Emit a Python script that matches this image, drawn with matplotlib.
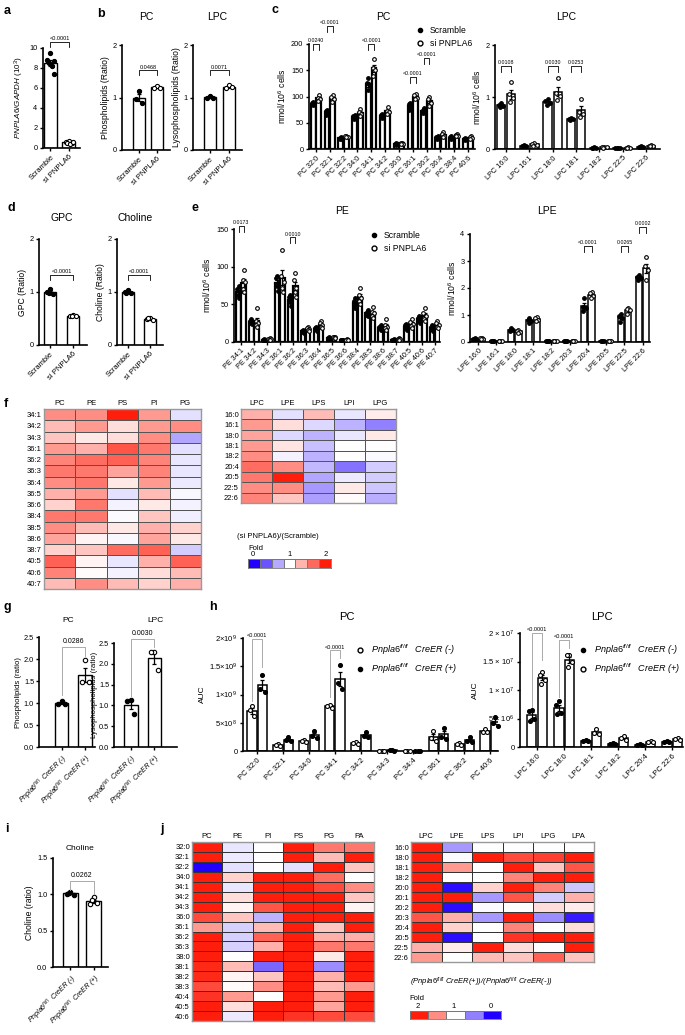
import numpy as np
import matplotlib
matplotlib.use('Agg')
import matplotlib.pyplot as plt
from matplotlib.colors import LinearSegmentedColormap
from matplotlib.lines import Line2D

plt.rcParams['font.family'] = ['Liberation Sans', 'DejaVu Sans']
plt.rcParams['mathtext.fontset'] = 'custom'
plt.rcParams['mathtext.rm'] = 'Liberation Sans'
plt.rcParams['mathtext.it'] = 'Liberation Sans:italic'
plt.rcParams['mathtext.bf'] = 'Liberation Sans:bold'
plt.rcParams['axes.linewidth'] = 1.2

# ---------------- data ----------------
grp_si = ['Scramble', 'si PNPLA6']
grp_ko = [r'$Pnpla6^{fl/fl}$  CreER (-)', r'$Pnpla6^{fl/fl}$  CreER (+)']

# a
a_scr = [9.5, 8.8, 8.7, 8.5, 8.2, 7.4]
a_si = [0.7, 0.65, 0.55, 0.5, 0.4, 0.6]
# b
b_pc_scr = [1.12, 0.97, 0.9]
b_pc_si = [1.22, 1.19, 1.18]
b_lpc_scr = [1.03, 0.99, 1.0]
b_lpc_si = [1.23, 1.18, 1.2]

# c
c_pc_labels = ['PC 32:0', 'PC 32:1', 'PC 32:2', 'PC 34:0', 'PC 34:1', 'PC 34:2',
               'PC 36:0', 'PC 36:1', 'PC 36:2', 'PC 36:4', 'PC 38:4', 'PC 40:6']
c_pc_scr = [[90, 87, 85, 83], [74, 72, 68, 65], [22, 21, 20, 20], [64, 62, 60, 58],
            [135, 125, 120, 112], [66, 64, 62, 60], [11, 10, 9, 8], [88, 85, 80, 75],
            [78, 75, 70, 68], [24, 22, 21, 20], [24, 22, 21, 20], [21, 20, 19, 17]]
c_pc_si = [[103, 98, 95, 92], [102, 100, 95, 90], [25, 24, 23, 22], [76, 70, 66, 62],
           [172, 155, 150, 140], [80, 72, 70, 66], [12, 11, 10, 9], [105, 102, 98, 95],
           [100, 95, 88, 82], [33, 28, 25, 23], [29, 27, 25, 24], [24, 22, 21, 20]]
c_lpc_labels = ['LPC 16:0', 'LPC 16:1', 'LPC 18:0', 'LPC 18:1', 'LPC 18:2', 'LPC 22:5', 'LPC 22:6']
c_lpc_scr = [[0.88, 0.85, 0.82, 0.80], [0.07, 0.06, 0.05, 0.05], [0.97, 0.92, 0.88, 0.84],
             [0.60, 0.58, 0.57, 0.56], [0.03, 0.02, 0.02, 0.02], [0.02, 0.01, 0.01, 0.01],
             [0.05, 0.04, 0.04, 0.03]]
c_lpc_si = [[1.28, 1.05, 0.98, 0.90], [0.12, 0.10, 0.08, 0.06], [1.37, 1.08, 1.02, 0.95],
            [0.97, 0.72, 0.68, 0.62], [0.04, 0.03, 0.03, 0.02], [0.03, 0.02, 0.02, 0.01],
            [0.08, 0.06, 0.05, 0.05]]

# d
d_gpc_scr = [1.05, 1.0, 0.97, 0.98]
d_gpc_si = [0.56, 0.55, 0.54, 0.55]
d_cho_scr = [1.03, 1.0, 0.98, 0.99]
d_cho_si = [0.5, 0.49, 0.48, 0.5]

# e
e_pe_labels = ['PE 34:1', 'PE 34:2', 'PE 34:3', 'PE 36:1', 'PE 36:2', 'PE 36:3', 'PE 36:4',
               'PE 36:5', 'PE 36:6', 'PE 38:4', 'PE 38:5', 'PE 38:6', 'PE 38:7', 'PE 40:5',
               'PE 40:6', 'PE 40:7']
e_pe_scr = [[75, 70, 67, 62, 58], [30, 28, 27, 25, 24], [4, 3, 3, 3, 2], [88, 85, 78, 74, 68],
            [63, 60, 57, 53, 48], [16, 15, 14, 13, 12], [20, 19, 18, 17, 15], [6, 5, 5, 4, 4],
            [3, 3, 2, 2, 2], [58, 55, 52, 48, 45], [42, 40, 38, 36, 34], [22, 20, 19, 18, 16],
            [4, 3, 3, 3, 2], [24, 22, 20, 18, 16], [35, 32, 30, 28, 25], [22, 20, 18, 17, 15]]
e_pe_si = [[95, 82, 80, 70, 66], [45, 28, 25, 22, 20], [5, 4, 4, 3, 3], [122, 88, 80, 72, 66],
           [92, 82, 72, 67, 60], [20, 19, 17, 16, 15], [28, 25, 22, 20, 18], [7, 6, 6, 5, 5],
           [4, 3, 3, 3, 2], [72, 62, 58, 55, 50], [46, 40, 38, 35, 32], [30, 22, 20, 18, 16],
           [5, 4, 4, 3, 3], [30, 27, 24, 21, 19], [45, 38, 34, 30, 28], [28, 25, 22, 20, 18]]
e_lpe_labels = ['LPE 16:0', 'LPE 16:1', 'LPE 18:0', 'LPE 18:1', 'LPE 18:2', 'LPE 20:3',
                'LPE 20:4', 'LPE 20:5', 'LPE 22:5', 'LPE 22:6']
e_lpe_scr = [[0.14, 0.12, 0.11, 0.10], [0.04, 0.03, 0.03, 0.02], [0.52, 0.46, 0.43, 0.40],
             [0.88, 0.82, 0.78, 0.72], [0.03, 0.02, 0.02, 0.02], [0.03, 0.02, 0.02, 0.02],
             [1.62, 1.30, 1.25, 1.15], [0.03, 0.02, 0.02, 0.02], [1.02, 0.95, 0.88, 0.75],
             [2.50, 2.42, 2.38, 2.30]]
e_lpe_si = [[0.15, 0.13, 0.12, 0.10], [0.05, 0.04, 0.03, 0.03], [0.45, 0.40, 0.38, 0.35],
            [0.92, 0.88, 0.82, 0.78], [0.04, 0.03, 0.03, 0.02], [0.04, 0.03, 0.03, 0.02],
            [1.85, 1.80, 1.72, 1.62], [0.04, 0.03, 0.03, 0.02], [1.25, 1.22, 1.18, 1.02],
            [3.15, 2.80, 2.65, 2.30]]

# f heatmaps (fold, si PNPLA6 / Scramble)
f_rows = ['34:1', '34:2', '34:3', '36:1', '36:2', '36:3', '36:4', '36:5', '36:6', '38:4',
          '38:5', '38:6', '38:7', '40:5', '40:6', '40:7']
f_cols = ['PC', 'PE', 'PS', 'PI', 'PG']
f_vals = [[1.5, 1.5, 2.0, 1.45, 0.88], [1.3, 1.45, 1.15, 1.45, 1.5], [1.25, 1.1, 1.15, 1.5, 0.65],
          [1.45, 1.35, 1.75, 1.6, 0.88], [1.55, 1.65, 1.7, 1.55, 0.9], [1.6, 1.6, 1.4, 1.55, 0.9],
          [1.5, 1.6, 1.1, 1.45, 0.92], [1.35, 1.45, 0.88, 1.3, 0.97], [1.2, 1.6, 0.95, 1.1, 0.95],
          [1.6, 1.6, 0.98, 1.25, 0.93], [1.5, 1.3, 1.1, 1.35, 1.2], [1.4, 1.05, 0.97, 1.4, 1.1],
          [1.2, 1.25, 1.65, 1.7, 0.8], [1.7, 1.05, 0.9, 1.35, 1.7], [1.55, 1.02, 0.95, 1.15, 1.3],
          [1.3, 1.5, 1.3, 1.2, 1.35]]
f_lrows = ['16:0', '16:1', '18:0', '18:1', '18:2', '20:4', '20:5', '22:5', '22:6']
f_lcols = ['LPC', 'LPE', 'LPS', 'LPI', 'LPG']
f_lvals = [[1.35, 0.88, 1.3, 0.9, 1.08], [1.45, 1.15, 0.85, 0.7, 0.5], [1.4, 0.85, 0.7, 0.9, 1.1],
           [1.45, 1.12, 0.75, 1.0, 1.0], [1.5, 0.95, 0.7, 1.0, 0.98], [1.65, 1.5, 0.72, 0.45, 0.8],
           [1.6, 2.0, 0.65, 0.92, 0.8], [1.5, 1.5, 0.6, 1.1, 0.78], [1.55, 1.25, 0.62, 1.02, 0.68]]
f_legend = [0, 0.33, 0.67, 1, 1.33, 1.67, 2]

# g
g_pc_ctl = [1.05, 0.98, 0.98]
g_pc_ko = [1.97, 1.47, 1.47]
g_lpc_ctl = [1.12, 1.1, 0.8]
g_lpc_ko = [2.28, 2.28, 1.86]

# h (PC in units of 1e8, LPC in units of 1e6)
h_pc_labels = ['PC 32:0', 'PC 32:1', 'PC 34:0', 'PC 34:1', 'PC 34:2', 'PC 34:3', 'PC 34:4',
               'PC 36:1', 'PC 36:2', 'PC 40:6']
h_pc_ctl = [[8.0, 7.2, 6.2], [1.3, 1.1, 0.9], [2.0, 1.8, 1.6], [8.2, 7.9, 7.6], [1.6, 1.4, 1.2],
            [0.08, 0.05, 0.03], [0.03, 0.02, 0.01], [3.5, 2.3, 1.8], [1.4, 1.2, 1.0], [3.9, 3.3, 3.3]]
h_pc_ko = [[13.5, 11.0, 10.5], [2.4, 2.0, 1.7], [3.5, 2.6, 2.3], [15.3, 12.0, 11.0], [3.4, 2.7, 2.4],
           [0.15, 0.1, 0.06], [0.04, 0.02, 0.01], [4.1, 2.5, 2.2], [2.4, 1.8, 1.6], [6.1, 5.0, 4.5]]
h_lpc_labels = ['LPC 16:0', 'LPC 18:0', 'LPC 18:1', 'LPC 18:2', 'LPC 20:4', 'LPC 22:6']
h_lpc_ctl = [[6.5, 6.4, 5.0, 4.6], [8.0, 7.3, 6.0, 5.8], [1.3, 1.1, 1.0], [0.7, 0.6, 0.5],
             [0.45, 0.35, 0.3], [1.0, 0.9, 0.8]]
h_lpc_ko = [[13.2, 12.7, 11.8, 11.0], [16.2, 16.1, 15.0, 14.0], [3.2, 2.5, 2.2], [1.9, 1.6, 1.2],
            [1.1, 0.9, 0.8], [1.6, 1.4, 1.3]]

# i
i_ctl = [1.03, 1.01, 0.99, 1.02]
i_ko = [0.96, 0.87, 0.88, 0.92]

# j heatmaps (fold, CreER(+) / CreER(-))
j_rows = ['32:0', '32:1', '32:2', '34:0', '34:1', '34:2', '34:3', '36:0', '36:1', '36:2',
          '36:3', '38:0', '38:1', '38:2', '38:3', '40:4', '40:5', '40:6']
j_cols = ['PC', 'PE', 'PI', 'PS', 'PG', 'PA']
j_vals = [[2, 0.9, 1.0, 2, 1.6, 1.6], [2, 0.92, 1.0, 2, 1.3, 2], [0, 0.88, 1.0, 0.88, 2, 1.25],
          [2, 1.2, 2, 2, 1.65, 1.0], [2, 0.9, 2, 2, 1.8, 1.5], [2, 1.15, 2, 2, 2, 1.25],
          [2, 1.05, 1.75, 2, 2, 1.05], [1.8, 1.25, 0.7, 2, 2, 2], [1.45, 0.82, 1.3, 2, 1.25, 2],
          [2, 0.82, 1.7, 2, 1.35, 1.35], [2, 0.82, 1.35, 2, 1.6, 1.6], [2, 1.0, 2, 2, 1.1, 2],
          [1.95, 1.3, 0.4, 2, 0.55, 2], [1.95, 1.05, 1.25, 2, 1.35, 2], [1.8, 1.02, 1.5, 2, 1.3, 1.45],
          [1.9, 1.45, 1.0, 2, 1.45, 2], [2, 1.15, 2, 2, 1.4, 2], [2, 0.92, 2, 1.9, 1.8, 1.8]]
j_lrows = ['16:0', '18:0', '18:1', '18:2', '20:0', '20:1', '20:2', '20:3', '20:4', '20:5',
           '22:5', '22:6']
j_lcols = ['LPC', 'LPE', 'LPS', 'LPI', 'LPG', 'LPA']
j_lvals = [[2, 0.6, 1.0, 1.0, 1.0, 1.0], [2, 0.98, 2, 1.8, 1.85, 2], [2, 1.45, 1.0, 2, 1.25, 1.75],
           [2, 1.0, 1.0, 1.55, 2, 2], [2, 0.05, 1.2, 2, 1.55, 0.78], [2, 2, 0.6, 1.75, 0.8, 1.35],
           [2, 0.05, 0.98, 1.0, 1.15, 1.08], [1.75, 1.35, 0.6, 2, 0.55, 0.1],
           [2, 1.2, 1.0, 1.55, 1.0, 1.15], [2, 0.05, 1.0, 1.9, 2, 2], [1.35, 1.08, 2, 1.15, 1.0, 2],
           [1.45, 1.0, 1.3, 1.25, 1.7, 1.25]]
j_legend = [2, 1.5, 1, 0.5, 0]

# ---------------- drawing helpers ----------------
W, H = 685, 1035
fig = plt.figure(figsize=(W / 100, H / 100), dpi=100)
fig.patch.set_facecolor('white')
fold_cmap = LinearSegmentedColormap.from_list('fold', ['#2200ff', '#ffffff', '#ff1e0c'])
OFFS = [0.0, -0.25, 0.25, -0.12, 0.12, 0.3]


def axpx(l, t, r, b):
    return fig.add_axes([l / W, 1 - b / H, (r - l) / W, (b - t) / H])


def fpos(x, y):
    return x / W, 1 - y / H


def style(ax, fs=5.3):
    ax.spines[['top', 'right']].set_visible(False)
    ax.tick_params(labelsize=fs, length=2.5, width=1.0, pad=1.5)


def one_bar(ax, x, pts, w, filled, ms=6, lw=1.0):
    pts = np.asarray(pts, float)
    m = pts.mean()
    se = pts.std(ddof=1) / np.sqrt(len(pts))
    ax.bar(x, m, w, color='white', edgecolor='black', linewidth=lw, zorder=2)
    ax.errorbar(x, m, yerr=se, fmt='none', ecolor='black', elinewidth=0.9,
                capsize=1.5, capthick=0.9, zorder=3)
    offs = np.array(OFFS[:len(pts)]) * w
    ax.scatter(x + offs, pts, s=ms, facecolor='black' if filled else 'white',
               edgecolor='black', linewidths=0.8, zorder=4, clip_on=False)


def multi_bars(ax, A, B, fillA=True, fillB=False, w=0.34, d=0.19, ms=6, lw=1.0):
    for i, (pa, pb) in enumerate(zip(A, B)):
        one_bar(ax, i - d, pa, w, fillA, ms, lw)
        one_bar(ax, i + d, pb, w, fillB, ms, lw)


def bracket(ax, x1, x2, y, l1, l2, txt, fs=4, color='black', lw=0.6, pad=0.5):
    ax.plot([x1, x1, x2, x2], [y - l1, y, y, y - l2], color=color, lw=lw,
            clip_on=False, zorder=5)
    ax.annotate(txt, ((x1 + x2) / 2, y), xytext=(0, pad), textcoords='offset points',
                ha='center', va='bottom', fontsize=fs, annotation_clip=False)


def xlabels(ax, labels, fs=5.5, style_=None):
    ax.set_xticks(range(len(labels)))
    ax.set_xticklabels(labels, rotation=45, ha='right', rotation_mode='anchor',
                       fontsize=fs, fontstyle=style_ or 'normal')


def heat(ax, vals, rows, cols, edge='#555555', fs=5.5):
    v = np.array(vals, float)
    ax.pcolormesh(v, cmap=fold_cmap, vmin=0, vmax=2, edgecolors=edge, linewidth=0.6)
    ax.set_xlim(0, len(cols))
    ax.set_ylim(len(rows), 0)
    ax.set_xticks(np.arange(len(cols)) + 0.5)
    ax.set_xticklabels(cols)
    ax.xaxis.tick_top()
    ax.set_yticks(np.arange(len(rows)) + 0.5)
    ax.set_yticklabels(rows)
    ax.tick_params(length=0, labelsize=fs, pad=1.5)
    for s in ax.spines.values():
        s.set_color('#999999')
        s.set_linewidth(1.0)


def legend_cells(ax, vals):
    ax.pcolormesh(np.array([vals], float), cmap=fold_cmap, vmin=0, vmax=2,
                  edgecolors='#777777', linewidth=0.5)
    ax.set_xticks([])
    ax.set_yticks([])
    for s in ax.spines.values():
        s.set_color('#777777')
        s.set_linewidth(0.6)


def letter(x, y, s):
    fig.text(*fpos(x, y), s, fontsize=9, fontweight='bold', va='center', ha='left')


def title(x, y, s, fs=7.5):
    fig.text(*fpos(x, y), s, fontsize=fs, ha='center', va='center')


# ---------------- a ----------------
letter(4, 11, 'a')
ax = axpx(43, 48, 80, 148)
one_bar(ax, 0, a_scr, 0.7, True, 9)
one_bar(ax, 1, a_si, 0.7, False, 9)
ax.set_xlim(-0.4, 1.6)
ax.set_ylim(0, 10)
ax.set_yticks([0, 2, 4, 6, 8, 10])
style(ax)
xlabels(ax, grp_si)
ax.set_ylabel(r'$PNPLA6/GAPDH$ (10$^3$)', fontsize=5.8, labelpad=2)
bracket(ax, 0, 1, 10.6, 0.5, 0.5, '<0.0001')

# ---------------- b ----------------
letter(97, 14, 'b')
title(146, 17, 'PC')
title(217, 17, 'LPC')
for (l, r), A, B, lab, p in (((122, 170), b_pc_scr, b_pc_si, 'Phospholipids (Ratio)', '0.0468'),
                             ((193, 242), b_lpc_scr, b_lpc_si, 'Lysophospholipids (Ratio)', '0.0071')):
    ax = axpx(l, 45, r, 150)
    one_bar(ax, 0, A, 0.65, True, 9)
    one_bar(ax, 1, B, 0.65, False, 9)
    ax.set_xlim(-0.9, 1.7)
    ax.set_ylim(0, 2)
    ax.set_yticks([0, 1, 2])
    style(ax)
    xlabels(ax, grp_si)
    ax.set_ylabel(lab, fontsize=6.2, labelpad=2)
    bracket(ax, 0, 1, 1.52, 0.1, 0.1, p)

# ---------------- c ----------------
letter(271, 10, 'c')
title(383, 17, 'PC')
title(566, 17, 'LPC')
ax = axpx(309, 44, 475, 149)
multi_bars(ax, c_pc_scr, c_pc_si, w=0.34, d=0.2, ms=7, lw=1.6)
ax.set_xlim(-0.5, 11.5)
ax.set_ylim(0, 200)
ax.set_yticks([0, 50, 100, 150, 200])
style(ax)
xlabels(ax, c_pc_labels, fs=5.2)
ax.set_ylabel('nmol/10$^6$ cells', fontsize=6.2, labelpad=2)
for i, y, txt in ((0, 200, '0.0240'), (1, 234, '<0.0001'), (4, 200, '<0.0001'),
                  (7, 137, '<0.0001'), (8, 173, '<0.0001')):
    bracket(ax, i - 0.2, i + 0.2, y, 11, 11, txt, fs=3.8)
ax.legend(handles=[Line2D([], [], ls='none', marker='o', ms=3, mfc='black', mec='black', label='Scramble'),
                   Line2D([], [], ls='none', marker='o', ms=3.5, mfc='white', mec='black', mew=1,
                          label='si PNPLA6')],
          loc='upper left', bbox_to_anchor=fpos(412, 22), bbox_transform=fig.transFigure,
          frameon=False, fontsize=6.2, handlelength=0.8, handletextpad=0.8, labelspacing=0.4,
          borderpad=0)

ax = axpx(495, 45, 660, 149)
multi_bars(ax, c_lpc_scr, c_lpc_si, w=0.36, d=0.22, ms=7, lw=1.1)
ax.set_xlim(-0.47, 6.6)
ax.set_ylim(0, 2)
ax.set_yticks([0, 1, 2])
style(ax)
xlabels(ax, c_lpc_labels, fs=5.2)
ax.set_ylabel('nmol/10$^6$ cells', fontsize=6.2, labelpad=2)
for i in (0, 2, 3):
    bracket(ax, i - 0.22, i + 0.22, 1.6, 0.12, 0.12, ['0.0108', '', '0.0030', '0.0253'][i], fs=3.8)

# ---------------- d ----------------
letter(8, 208, 'd')
title(62, 218, 'GPC')
title(135, 218, 'Choline')
for (l, r), A, B, lab in (((39, 87), d_gpc_scr, d_gpc_si, 'GPC (Ratio)'),
                          ((117, 163), d_cho_scr, d_cho_si, 'Choline (Ratio)')):
    ax = axpx(l, 239, r, 345)
    one_bar(ax, 0, A, 0.55, True, 9)
    one_bar(ax, 1, B, 0.55, False, 9)
    ax.set_xlim(-0.48, 1.6)
    ax.set_ylim(0, 2)
    ax.set_yticks([0, 1, 2])
    style(ax)
    xlabels(ax, grp_si)
    ax.set_ylabel(lab, fontsize=6.2, labelpad=2)
    bracket(ax, 0, 1, 1.32, 0.1, 0.1, '<0.0001')

# ---------------- e ----------------
letter(191, 208, 'e')
title(342, 211, 'PE')
title(547, 211, 'LPE')
ax = axpx(234, 229, 440, 342)
multi_bars(ax, e_pe_scr, e_pe_si, w=0.34, d=0.2, ms=7, lw=1.6)
ax.set_xlim(-0.55, 15.4)
ax.set_ylim(0, 150)
ax.set_yticks([0, 50, 100, 150])
style(ax)
xlabels(ax, e_pe_labels, fs=5.2)
ax.set_ylabel('nmol/10$^6$ cells', fontsize=6.2, labelpad=2)
bracket(ax, -0.2, 0.2, 154, 8, 8, '0.0173', fs=3.8)
bracket(ax, 3.8, 4.2, 139, 8, 8, '0.0010', fs=3.8)
ax.legend(handles=[Line2D([], [], ls='none', marker='o', ms=3, mfc='black', mec='black', label='Scramble'),
                   Line2D([], [], ls='none', marker='o', ms=3.5, mfc='white', mec='black', mew=1,
                          label='si PNPLA6')],
          loc='upper left', bbox_to_anchor=fpos(366, 227), bbox_transform=fig.transFigure,
          frameon=False, fontsize=6.2, handlelength=0.8, handletextpad=0.8, labelspacing=0.4,
          borderpad=0)

ax = axpx(470, 234, 650, 342)
multi_bars(ax, e_lpe_scr, e_lpe_si, w=0.34, d=0.2, ms=7, lw=1.1)
ax.set_xlim(-0.45, 9.4)
ax.set_ylim(0, 4)
ax.set_yticks([0, 1, 2, 3, 4])
style(ax)
xlabels(ax, e_lpe_labels, fs=5.2)
ax.set_ylabel('nmol/10$^6$ cells', fontsize=6.2, labelpad=2)
bracket(ax, 5.8, 6.2, 3.55, 0.22, 0.22, '<0.0001', fs=3.8)
bracket(ax, 7.8, 8.2, 3.55, 0.22, 0.22, '0.0265', fs=3.8)
bracket(ax, 8.8, 9.2, 4.26, 0.22, 0.22, '0.0002', fs=3.8)

# ---------------- f ----------------
letter(4, 404, 'f')
ax = axpx(44, 409, 201, 589)
heat(ax, f_vals, f_rows, f_cols)
ax = axpx(241, 409, 396, 503)
heat(ax, f_lvals, f_lrows, f_lcols)
fig.text(*fpos(237, 536), '(si PNPLA6)/(Scramble)', fontsize=5.5, va='center')
fig.text(*fpos(248, 548), 'Fold', fontsize=5.5, va='center')
for x, s in ((253, '0'), (290, '1'), (326, '2')):
    fig.text(*fpos(x, 555), s, fontsize=5.5, va='center', ha='center')
ax = axpx(248, 559, 331, 568)
legend_cells(ax, f_legend)

# ---------------- g ----------------
letter(4, 607, 'g')
title(68, 621, 'PC', fs=6)
title(155, 621, 'LPC', fs=6)
for (l, t, r), A, B, lab, xl, p, by, l1, l2 in (
        ((39, 637, 95), g_pc_ctl, g_pc_ko, 'Phospholipids (ratio)', (-0.96, 1.42), '0.0286', 2.28, 1.1, 0.22),
        ((114, 643, 177), g_lpc_ctl, g_lpc_ko, 'Lysophospholipids (ratio)', (-0.7, 1.95), '0.0030', 2.6, 1.38, 0.2)):
    ax = axpx(l, t, r, 747)
    one_bar(ax, 0, A, 0.58, True, 10)
    one_bar(ax, 1, B, 0.58, False, 10)
    ax.set_xlim(*xl)
    ax.set_ylim(0, 2.5)
    ax.set_yticks([0, 0.5, 1.0, 1.5, 2.0, 2.5])
    style(ax)
    ax.tick_params(axis='y', pad=1)
    xlabels(ax, grp_ko, fs=5, style_='italic')
    ax.set_ylabel(lab, fontsize=5.6, labelpad=1)
    bracket(ax, 0, 1, by, l1, l2, p, fs=5, color='#aaaaaa', lw=0.7, pad=1.5)

# ---------------- h ----------------
letter(209, 607, 'h')
title(347, 617, 'PC', fs=8)
title(602, 617, 'LPC', fs=8)
ax = axpx(243, 638, 498, 751)
multi_bars(ax, h_pc_ctl, h_pc_ko, fillA=False, fillB=True, w=0.36, d=0.2, ms=8, lw=1.1)
ax.set_xlim(-0.55, 9.3)
ax.set_ylim(0, 20)
ax.set_yticks([0, 5, 10, 15, 20])
ax.set_yticklabels(['0', r'5×10$^8$', r'1×10$^9$', r'1.5×10$^9$', r'2×10$^9$'])
style(ax, fs=5.5)
xlabels(ax, h_pc_labels, fs=5.5)
ax.set_ylabel('AUC', fontsize=6, labelpad=2)
bracket(ax, -0.2, 0.2, 19.8, 11.0, 5.0, '<0.0001', fs=4, color='#aaaaaa', lw=0.7)
bracket(ax, 2.8, 3.2, 17.8, 8.3, 1.4, '<0.0001', fs=4, color='#aaaaaa', lw=0.7)
ax.legend(handles=[Line2D([], [], ls='none', marker='o', ms=3.5, mfc='white', mec='black', mew=1,
                          label=r'$Pnpla6^{fl/fl}$   CreER (-)'),
                   Line2D([], [], ls='none', marker='o', ms=3, mfc='black', mec='black',
                          label=r'$Pnpla6^{fl/fl}$   CreER (+)')],
          loc='upper left', bbox_to_anchor=fpos(352, 638), bbox_transform=fig.transFigure,
          frameon=False, prop={'size': 6.5, 'style': 'italic'}, handlelength=0.8,
          handletextpad=0.8, labelspacing=0.5, borderpad=0)

ax = axpx(520, 633, 683, 747)
multi_bars(ax, h_lpc_ctl, h_lpc_ko, fillA=True, fillB=False, w=0.36, d=0.2, ms=8, lw=1.1)
ax.set_xlim(-0.63, 5.4)
ax.set_ylim(0, 20)
ax.set_yticks([0, 5, 10, 15, 20])
ax.set_yticklabels(['0', r'5 × 10$^6$', r'1 × 10$^7$', r'1.5 × 10$^7$', r'2 × 10$^7$'])
style(ax, fs=5.5)
xlabels(ax, h_lpc_labels, fs=5.5)
ax.set_ylabel('AUC', fontsize=6, labelpad=2)
bracket(ax, -0.2, 0.2, 20.0, 13.0, 4.7, '<0.0001', fs=4, color='#aaaaaa', lw=0.7)
bracket(ax, 0.8, 1.2, 18.8, 10.0, 1.4, '<0.0001', fs=4, color='#aaaaaa', lw=0.7)
ax.legend(handles=[Line2D([], [], ls='none', marker='o', ms=3, mfc='black', mec='black',
                          label=r'$Pnpla6^{fl/fl}$   CreER (-)'),
                   Line2D([], [], ls='none', marker='o', ms=3.5, mfc='white', mec='black', mew=1,
                          label=r'$Pnpla6^{fl/fl}$   CreER (+)')],
          loc='upper left', bbox_to_anchor=fpos(575, 638), bbox_transform=fig.transFigure,
          frameon=False, prop={'size': 6.5, 'style': 'italic'}, handlelength=0.8,
          handletextpad=0.8, labelspacing=0.5, borderpad=0)

# ---------------- i ----------------
letter(5, 829, 'i')
title(80, 848, 'Choline', fs=6)
ax = axpx(53, 858, 108, 967)
one_bar(ax, 0, i_ctl, 0.65, True, 10)
one_bar(ax, 1, i_ko, 0.65, False, 10)
ax.set_xlim(-0.76, 1.63)
ax.set_ylim(0, 1.5)
ax.set_yticks([0, 0.5, 1.0, 1.5])
style(ax)
xlabels(ax, grp_ko, fs=5, style_='italic')
ax.set_ylabel('Choline (ratio)', fontsize=6.2, labelpad=2)
bracket(ax, 0, 1, 1.18, 0.12, 0.18, '0.0262', fs=5, color='#aaaaaa', lw=0.7, pad=1.5)

# ---------------- j ----------------
letter(160, 829, 'j')
ax = axpx(192, 842, 374, 1021)
heat(ax, j_vals, j_rows, j_cols, edge='#333333')
ax = axpx(411, 842, 594, 962)
heat(ax, j_lvals, j_lrows, j_lcols, edge='#333333')
fig.text(*fpos(410, 982), r'($Pnpla6^{fl/fl}$ CreER(+))/($Pnpla6^{fl/fl}$ CreER(-))',
         fontsize=5.5, fontstyle='italic', va='center')
fig.text(*fpos(409, 998), 'Fold', fontsize=5.5, va='center')
for x, s in ((418, '2'), (454, '1'), (491, '0')):
    fig.text(*fpos(x, 1006), s, fontsize=5.5, va='center', ha='center')
ax = axpx(410, 1011, 501, 1019)
legend_cells(ax, j_legend)

fig.savefig('out.png', dpi=100, facecolor='white')
